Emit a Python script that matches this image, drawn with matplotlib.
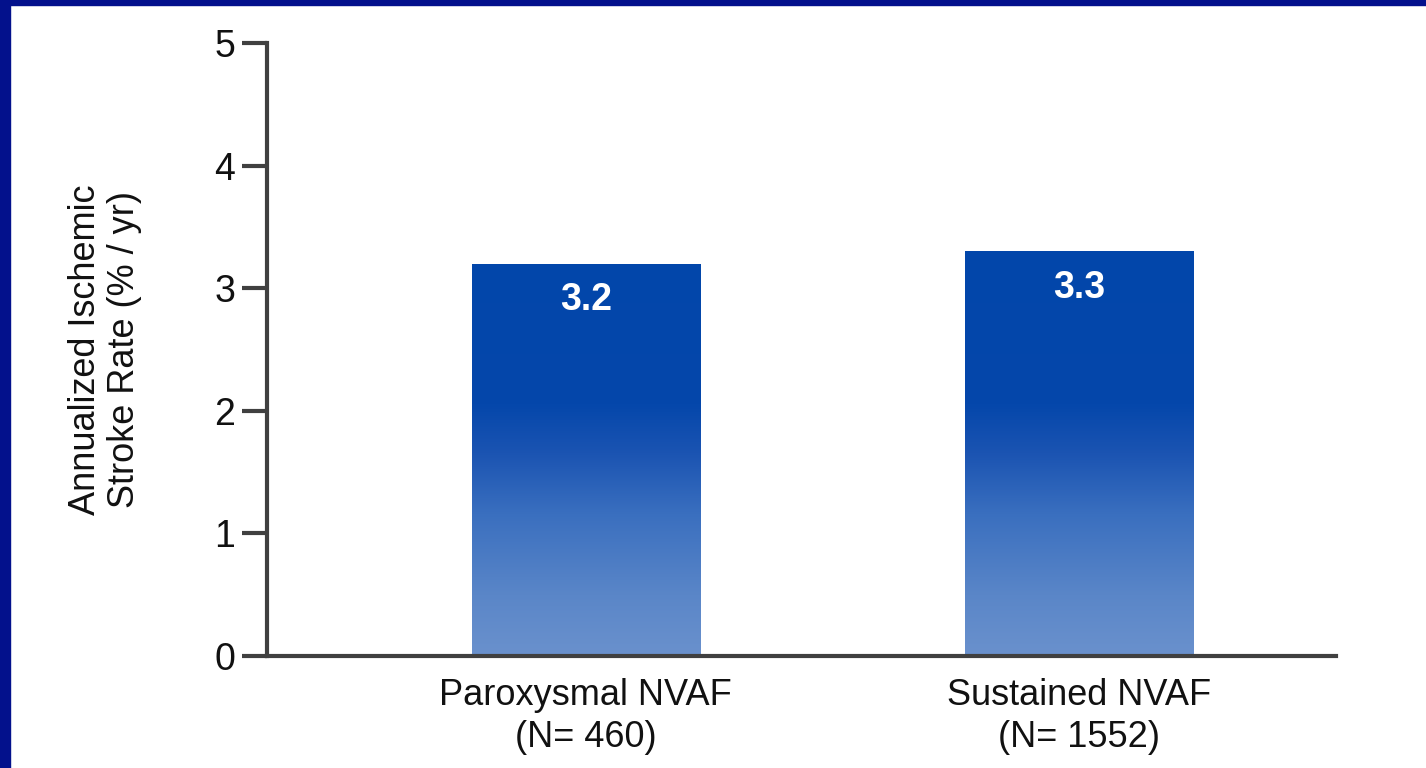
import numpy as np
import matplotlib
matplotlib.use('Agg')
from matplotlib import pyplot as plt
from matplotlib.colors import LinearSegmentedColormap
from matplotlib.patches import Rectangle

# datos
grupos = ['Paroxysmal NVAF\n(N= 460)', 'Sustained NVAF\n(N= 1552)']
tasas = [3.2, 3.3]
etiquetas = ['3.2', '3.3']

plt.rcParams['font.family'] = ['Liberation Sans', 'DejaVu Sans']

fig = plt.figure(figsize=[14.26, 7.68], dpi=100)
fig.patch.set_facecolor('white')

# marco azul de la diapositiva
fig.patches.append(Rectangle((0, 0), 10 / 1426, 1, transform=fig.transFigure,
                             color='#03118c', zorder=0))
fig.patches.append(Rectangle((0, 1 - 5 / 768), 1, 5 / 768, transform=fig.transFigure,
                             color='#03118c', zorder=0))

ax = fig.add_axes([0.1872, 0.1458, 0.7497, 0.7982])

# degradado de abajo (claro) hacia arriba (oscuro)
cmap = LinearSegmentedColormap.from_list('barras', [
    (0.0, '#6a91cd'),
    (0.15, '#5a86c8'),
    (0.35, '#3a6fbf'),
    (0.5, '#1b54b2'),
    (0.62, '#0547ab'),
    (1.0, '#0246aa'),
])
grad = np.linspace(0, 1, 256).reshape(-1, 1)

ancho = 0.462
x = np.arange(len(tasas))
barras = ax.bar(x, tasas, width=ancho, color='none', edgecolor='none')
tope = max(tasas)
for b in barras:
    img = ax.imshow(grad, cmap=cmap, origin='lower', aspect='auto',
                    extent=[b.get_x(), b.get_x() + b.get_width(), 0, tope],
                    zorder=1)
    img.set_clip_path(b)

for xi, v, t in zip(x, tasas, etiquetas):
    ax.text(xi, v - 0.3, t, ha='center', va='center', color='white',
            fontsize=27, fontweight='bold', zorder=3)

ax.set_xlim(-0.646, 1.52)
ax.set_ylim(0, 5)
ax.set_yticks([0, 1, 2, 3, 4, 5])
ax.set_xticks(x)
ax.set_xticklabels(grupos, fontsize=26, color='#111111', linespacing=1.25)
ax.tick_params(axis='x', length=0, pad=16)
ax.tick_params(axis='y', length=18, width=3, color='#404040', labelsize=27,
               pad=5, labelcolor='#111111')

for lado in ['top', 'right']:
    ax.spines[lado].set_visible(False)
for lado in ['left', 'bottom']:
    ax.spines[lado].set_linewidth(3)
    ax.spines[lado].set_color('#404040')

ax.set_ylabel('Annualized Ischemic\nStroke Rate (% / yr)', fontsize=26,
              color='#111111', labelpad=52, linespacing=1.15)

plt.savefig('out.png', dpi=100)
